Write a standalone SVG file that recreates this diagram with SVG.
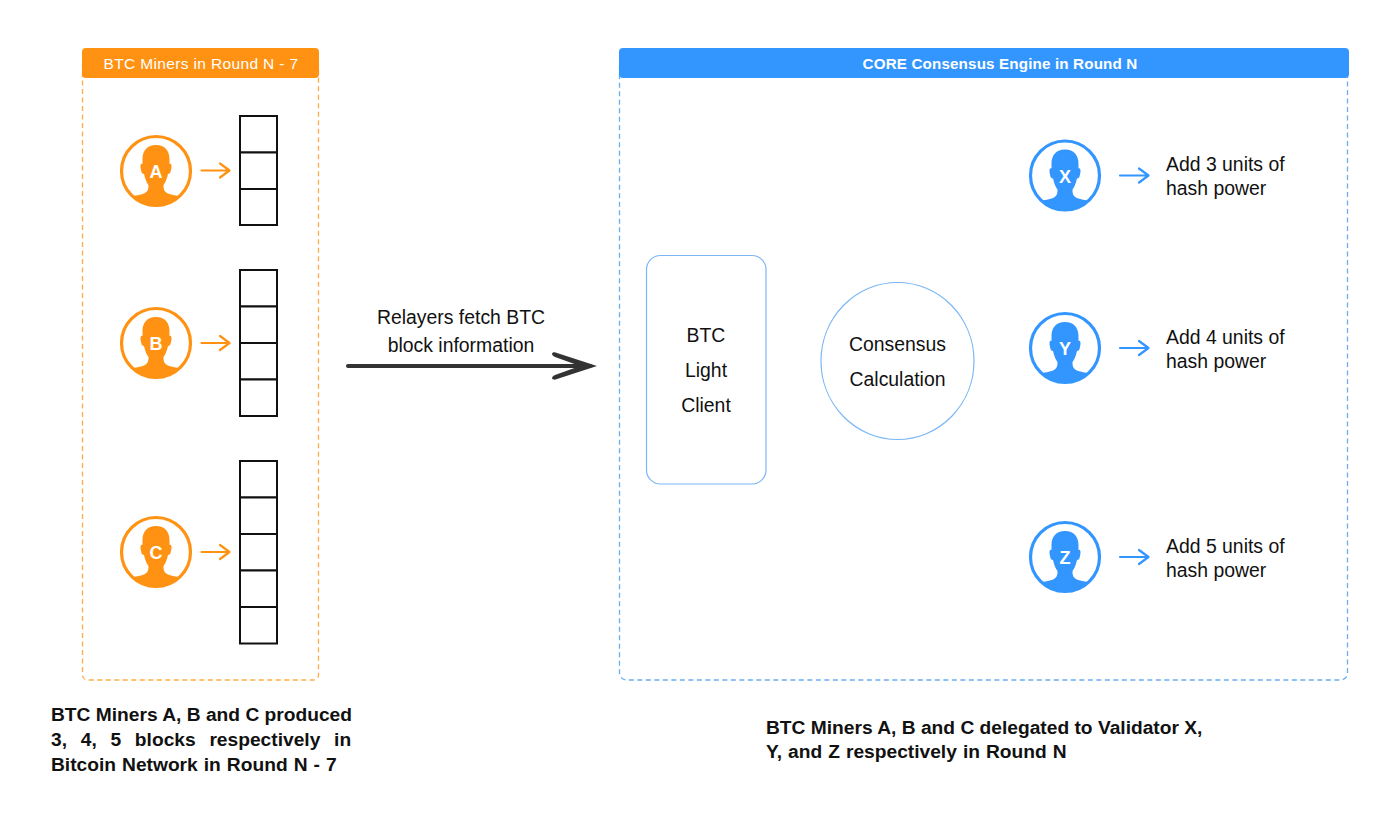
<svg xmlns="http://www.w3.org/2000/svg" width="1400" height="831" viewBox="0 0 1400 831">
<style>
text{font-family:"Liberation Sans",Arial,sans-serif}
.hd{font-size:15.500px;fill:#fff;text-anchor:middle;letter-spacing:.35px}
.hdb{font-size:15.200px;font-weight:700;letter-spacing:.15px}
.l{font-size:19.400px;fill:#111}
.c{text-anchor:middle}
.b{font-size:19.200px;font-weight:700;fill:#111}
.ltr{font-size:18px;font-weight:700;fill:#fff;text-anchor:middle}
.cell{fill:#fff;stroke:#111;stroke-width:2}
.o{fill:#ff9212}.ol{stroke:#ff9212}
.u{fill:#3396ff}.ul{stroke:#3396ff}
.ring{fill:#fff;stroke-width:3.2}
.sm{fill:none;stroke-width:2.200;stroke-linecap:round;stroke-linejoin:round}
</style>
<defs>
<clipPath id="cc"><circle r="34"/></clipPath>
<g id="bust"><path clip-path="url(#cc)" d="M0-26C-9-26-13.500-20-13.500-12L-13.500-7C-15.500-8-16-5-15-1C-14.500 2-13.500 3-12 3C-11 8-9 12-7.500 14C-7.500 18-8 20-11 22C-15 24.500-21 23.500-26 27L-27 36L27 36L26 27C21 23.500 15 24.500 11 22C8 20 7.500 18 7.500 14C9 12 11 8 12 3C13.500 3 14.500 2 15-1C16-5 15.500-8 13.500-7L13.500-12C13.500-20 9-26 0-26Z"/></g>
</defs>
<rect width="1400" height="831" fill="#fff"/>

<g id="panel-miners">
<rect x="82.500" y="60" width="236" height="620" rx="5" fill="none" stroke="#ffab47" stroke-width="1.300" stroke-dasharray="5 3.500"/>
<rect x="82" y="48" width="237" height="30" rx="4" class="o"/>
<text x="201" y="68.500" class="hd">BTC Miners in Round N - 7</text>
</g>
<g id="panel-core">
<rect x="619.500" y="60" width="728" height="620" rx="7" fill="none" stroke="#6aaef2" stroke-width="1.300" stroke-dasharray="5 3.500"/>
<rect x="619" y="48" width="730" height="30" rx="4" class="u"/>
<text x="1000" y="68.500" class="hd hdb">CORE Consensus Engine in Round N</text>
</g>

<g id="miner-a" transform="translate(156,171)"><circle r="34.500" class="ring ol"/><use href="#bust" class="o"/><text y="7" class="ltr">A</text></g>
<g id="miner-b" transform="translate(156,343)"><circle r="34.500" class="ring ol"/><use href="#bust" class="o"/><text y="7" class="ltr">B</text></g>
<g id="miner-c" transform="translate(156,552)"><circle r="34.500" class="ring ol"/><use href="#bust" class="o"/><text y="7" class="ltr">C</text></g>

<g id="blocks-a"><rect class="cell" x="240" y="116" width="37" height="36.500"/><rect class="cell" x="240" y="152.500" width="37" height="36.500"/><rect class="cell" x="240" y="189" width="37" height="36"/></g>
<g id="blocks-b"><rect class="cell" x="240" y="270" width="37" height="36.500"/><rect class="cell" x="240" y="306.500" width="37" height="36.500"/><rect class="cell" x="240" y="343" width="37" height="36.500"/><rect class="cell" x="240" y="379.500" width="37" height="36.500"/></g>
<g id="blocks-c"><rect class="cell" x="240" y="461" width="37" height="36.500"/><rect class="cell" x="240" y="497.500" width="37" height="36.500"/><rect class="cell" x="240" y="534" width="37" height="36.500"/><rect class="cell" x="240" y="570.500" width="37" height="36.500"/><rect class="cell" x="240" y="607" width="37" height="36.500"/></g>

<g id="client"><rect x="646.500" y="255.500" width="119.500" height="228.500" rx="14" fill="#fff" stroke="#7ab6f5" stroke-width="1.200"/>
<text class="l c" x="706" y="342">BTC</text><text class="l c" x="706" y="377">Light</text><text class="l c" x="706" y="412">Client</text></g>
<g id="calc"><ellipse cx="897.500" cy="361" rx="76.500" ry="78.500" fill="#fff" stroke="#7ab6f5" stroke-width="1.200"/>
<text class="l c" x="897.500" y="351">Consensus</text><text class="l c" x="897.500" y="386">Calculation</text></g>

<g id="validator-x" transform="translate(1065,175.500)"><circle r="34.500" class="ring ul"/><use href="#bust" class="u"/><text y="7" class="ltr">X</text></g>
<g id="validator-y" transform="translate(1065,348)"><circle r="34.500" class="ring ul"/><use href="#bust" class="u"/><text y="7" class="ltr">Y</text></g>
<g id="validator-z" transform="translate(1065,557)"><circle r="34.500" class="ring ul"/><use href="#bust" class="u"/><text y="7" class="ltr">Z</text></g>

<g id="connectors">
<path class="sm ol" d="M201.500 170.500H229M220 163.500L229.500 170.500L220 177.500"/>
<path class="sm ol" d="M201.500 343H229M220 336L229.500 343L220 350"/>
<path class="sm ol" d="M201.500 552H229M220 545L229.500 552L220 559"/>
<path class="sm ul" d="M1120 175.500H1148M1139 168.500L1148.500 175.500L1139 182.500"/>
<path class="sm ul" d="M1120 348H1148M1139 341L1148.500 348L1139 355"/>
<path class="sm ul" d="M1120 557H1148M1139 550L1148.500 557L1139 564"/>
<path d="M348 366H590" fill="none" stroke="#333" stroke-width="4" stroke-linecap="round"/>
<path d="M552 353.500C553 352 555 352 557 353L597 366L557 379C555 380 553 380 552 378.500C552 377 553 376 555 375L580 366L555 357C553 356 552 355 552 353.500Z" fill="#333"/>
</g>

<g id="labels">
<text class="l c" x="461" y="324">Relayers fetch BTC</text>
<text class="l c" x="461" y="352">block information</text>
<text class="l" x="1166" y="171">Add 3 units of</text><text class="l" x="1166" y="195">hash power</text>
<text class="l" x="1166" y="344">Add 4 units of</text><text class="l" x="1166" y="367.500">hash power</text>
<text class="l" x="1166" y="553">Add 5 units of</text><text class="l" x="1166" y="576.500">hash power</text>
<text class="b" x="51" y="721">BTC Miners A, B and C produced</text>
<text class="b" x="51" y="746" word-spacing="8.400">3, 4, 5 blocks respectively in</text>
<text class="b" x="51" y="771" word-spacing=".7">Bitcoin Network in Round N - 7</text>
<text class="b" x="766" y="734">BTC Miners A, B and C delegated to Validator X,</text>
<text class="b" x="766" y="758" word-spacing=".7">Y, and Z respectively in Round N</text>
</g>
</svg>
